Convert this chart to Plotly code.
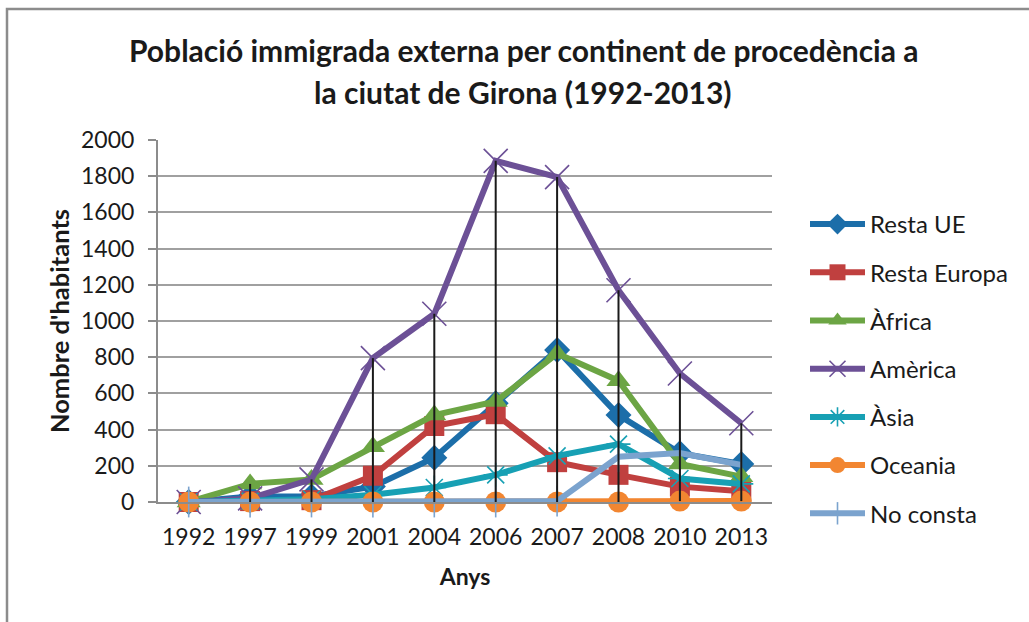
import plotly.graph_objects as go

years = ["1992", "1997", "1999", "2001", "2004", "2006", "2007", "2008", "2010", "2013"]
resta_ue = [0, 30, 30, 85, 245, 545, 840, 480, 270, 210]
resta_europa = [0, 5, 10, 145, 420, 485, 220, 150, 85, 60]
africa = [0, 100, 125, 305, 480, 555, 820, 670, 210, 140]
america = [0, 20, 125, 795, 1040, 1885, 1795, 1170, 710, 435]
asia = [0, 5, 15, 40, 80, 150, 255, 320, 130, 100]
oceania = [0, 0, 0, 0, 0, 0, 0, 0, 5, 5]
no_consta = [0, 0, 0, 0, 0, 0, 5, 250, 270, 205]

series = [
    ("Resta UE", resta_ue, "#1C6EA9", "diamond", 20, None),
    ("Resta Europa", resta_europa, "#C0403F", "square", 20, None),
    ("Àfrica", africa, "#6CA544", "triangle-up", 21, None),
    ("Amèrica", america, "#6C5096", "x-thin-open", 24, 1.6),
    ("Àsia", asia, "#17A0B4", "asterisk-open", 20, 1.6),
    ("Oceania", oceania, "#F28631", "circle", 21, None),
    ("No consta", no_consta, "#7BA3CE", "line-ns-open", 22, 1.6),
]

FONT = "Lato"
fig = go.Figure()
for name, vals, col, sym, size, lw in series:
    marker = dict(symbol=sym, size=size, color=col)
    if lw is not None:
        marker["line"] = dict(color=col, width=lw)
    fig.add_trace(go.Scatter(
        x=years, y=vals, name=name, mode="lines+markers",
        line=dict(color=col, width=6), marker=marker,
        legendgroup=name, cliponaxis=False,
    ))

# high-low lines
all_vals = [s[1] for s in series]
hx, hy = [], []
for i, yr in enumerate(years):
    col_vals = [v[i] for v in all_vals]
    hi, lo = max(col_vals), min(col_vals)
    if hi > lo:
        hx += [yr, yr, None]
        hy += [lo, hi, None]
fig.add_trace(go.Scatter(x=hx, y=hy, mode="lines", line=dict(color="#1a1a1a", width=2),
                         showlegend=False, hoverinfo="skip", cliponaxis=False))

L, R, T, B = 158, 257, 140, 120
W, H = 1029, 622
pw, ph = W - L - R, H - T - B

def px(xp):
    return (xp - L) / pw

def py(yp):
    return (H - B - yp) / ph

fig.add_shape(type="path", xref="paper", yref="paper",
              path=f"M {px(7)} {py(640)} L {px(7)} {py(9)} L {px(1040)} {py(9)}",
              line=dict(color="#8c8c8c", width=2.5))

title_lines = ["Població immigrada externa per continent de procedència a",
               "la ciutat de Girona (1992-2013)"]
for txt, yy in zip(title_lines, [50, 92]):
    fig.add_annotation(text=f"<b>{txt}</b>", xref="paper", yref="paper",
                       x=px(523), y=py(yy), showarrow=False,
                       font=dict(family=FONT, size=30, color="#1a1a1a"),
                       xanchor="center", yanchor="middle")

fig.update_layout(
    width=W, height=H,
    margin=dict(l=L, r=R, t=T, b=B, autoexpand=False),
    paper_bgcolor="white", plot_bgcolor="white",
    font=dict(family=FONT, size=23, color="#1a1a1a"),
    xaxis=dict(type="category", range=[-0.5, 9.5], showgrid=False,
               showline=True, linecolor="#8c8c8c", linewidth=2, ticks="",
               tickfont=dict(size=23), ticklabelstandoff=13,
               title=dict(text="<b>Anys</b>", font=dict(size=23), standoff=20)),
    yaxis=dict(range=[0, 2000], dtick=200, showgrid=True, gridcolor="#a0a0a0", gridwidth=2,
               showline=True, linecolor="#8c8c8c", linewidth=2, ticks="outside",
               ticklen=8, tickcolor="#8c8c8c", tickwidth=2, zeroline=False,
               tickfont=dict(size=23), ticklabelstandoff=9,
               title=dict(text="<b>Nombre d'habitants</b>", font=dict(size=25.5), standoff=4)),
    legend=dict(x=px(805), y=py(202), xanchor="left", yanchor="top",
                font=dict(size=24), tracegroupgap=14, itemwidth=55,
                bgcolor="rgba(0,0,0,0)"),
    showlegend=True,
)

fig.write_html("out.html", post_script="document.body.style.margin='0';",
               config={"displayModeBar": False})
